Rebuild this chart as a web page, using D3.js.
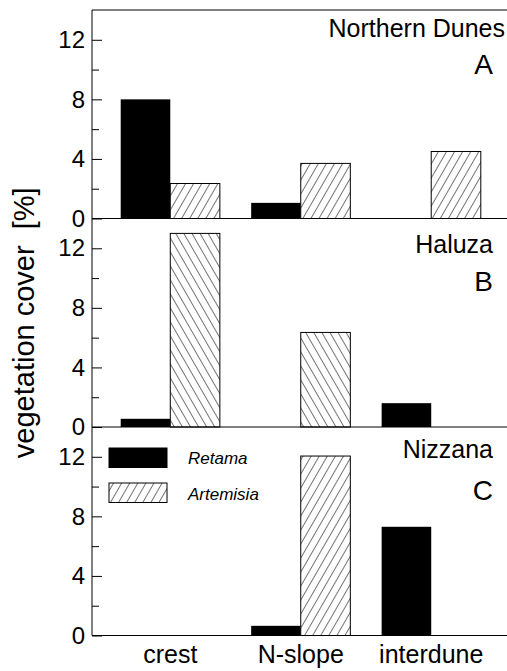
<!DOCTYPE html>
<html>
<head>
<meta charset="utf-8">
<script src="https://cdn.jsdelivr.net/npm/d3@7"></script>
<style>
  body { margin: 0; background: #fff; }
  svg { display: block; }
</style>
</head>
<body>
<div id="chart"></div>
<script>
// data
const sites = ["Northern Dunes", "Haluza", "Nizzana"];
const panelLetters = ["A", "B", "C"];
const positions = ["crest", "N-slope", "interdune"];
const species = ["Retama", "Artemisia"];
// vegetation cover [%] per site, per position
const retama = [
  [8.0, 1.05, 0],
  [0.55, 0, 1.6],
  [0, 0.65, 7.3]
];
const artemisia = [
  [2.35, 3.7, 4.5],
  [13.0, 6.35, 0],
  [0, 12.05, 0]
];
const majorTicks = [0, 4, 8, 12];
const minorTicks = [2, 6, 10];

const width = 507, height = 671;
const plotLeft = 92, plotTop = 10, panelH = 208.5;
const font = "'Liberation Sans', Arial, sans-serif";

const svg = d3.select("#chart").append("svg")
  .attr("width", width)
  .attr("height", height)
  .attr("font-family", font);

// hatch patterns: "///" and "\\\"
const defs = svg.append("defs");
[["fwd", 30], ["back", -30]].forEach(([id, ang]) => {
  defs.append("pattern")
    .attr("id", id)
    .attr("patternUnits", "userSpaceOnUse")
    .attr("width", 7)
    .attr("height", 7)
    .attr("patternTransform", `rotate(${ang})`)
    .append("line")
    .attr("x1", 0).attr("y1", 0)
    .attr("x2", 0).attr("y2", 7)
    .attr("stroke", "#000")
    .attr("stroke-width", 1.1);
});

const x = d3.scaleLinear().domain([0.4, 3.6]).range([plotLeft, 509.5]);
const barW = x(1.38) - x(1);

sites.forEach((site, i) => {
  const y0 = plotTop + i * panelH;
  const y = d3.scaleLinear().domain([0, 14]).range([y0 + panelH, y0]);
  const g = svg.append("g");
  const hatch = i === 1 ? "url(#back)" : "url(#fwd)";

  // bars
  g.append("g").selectAll("rect")
    .data(retama[i])
    .join("rect")
    .attr("x", (d, j) => x(j + 1) - barW)
    .attr("y", d => y(d))
    .attr("width", barW)
    .attr("height", d => y(0) - y(d))
    .attr("fill", "#000")
    .attr("display", d => d > 0 ? null : "none");

  g.append("g").selectAll("rect")
    .data(artemisia[i])
    .join("rect")
    .attr("x", (d, j) => x(j + 1))
    .attr("y", d => y(d))
    .attr("width", barW)
    .attr("height", d => y(0) - y(d))
    .attr("fill", "#fff")
    .attr("display", d => d > 0 ? null : "none");
  g.append("g").selectAll("rect")
    .data(artemisia[i])
    .join("rect")
    .attr("x", (d, j) => x(j + 1))
    .attr("y", d => y(d))
    .attr("width", barW)
    .attr("height", d => y(0) - y(d))
    .attr("fill", hatch)
    .attr("stroke", "#000")
    .attr("stroke-width", 1)
    .attr("display", d => d > 0 ? null : "none");

  // zero line / panel separator
  g.append("line")
    .attr("x1", plotLeft).attr("x2", width)
    .attr("y1", y(0)).attr("y2", y(0))
    .attr("stroke", "#000");

  // y axis, ticks pointing inward
  const ax = g.append("g")
    .attr("transform", `translate(${plotLeft},0)`)
    .call(d3.axisLeft(y).tickValues(majorTicks).tickSize(-10).tickPadding(7));
  ax.selectAll("text").attr("font-size", 24).attr("font-family", font).attr("fill", "#000");
  ax.select(".domain").remove();
  const mx = g.append("g")
    .attr("transform", `translate(${plotLeft},0)`)
    .call(d3.axisLeft(y).tickValues(minorTicks).tickSize(-7).tickFormat(""));
  mx.select(".domain").remove();

  // panel titles
  g.append("text")
    .attr("x", i === 0 ? 505 : 493)
    .attr("y", y0 + [27, 34, 31][i])
    .attr("text-anchor", "end")
    .attr("font-size", 25)
    .text(site);
  g.append("text")
    .attr("x", 493)
    .attr("y", y0 + [64, 72, 73][i])
    .attr("text-anchor", "end")
    .attr("font-size", 28)
    .text(panelLetters[i]);
});

// frame: top and left lines
svg.append("line")
  .attr("x1", plotLeft).attr("x2", width)
  .attr("y1", plotTop).attr("y2", plotTop)
  .attr("stroke", "#000");
svg.append("line")
  .attr("x1", plotLeft).attr("x2", plotLeft)
  .attr("y1", plotTop).attr("y2", plotTop + 3 * panelH)
  .attr("stroke", "#000");

// category labels
svg.append("g")
  .selectAll("text")
  .data(positions)
  .join("text")
  .attr("x", (d, j) => x(j + 1))
  .attr("y", 663)
  .attr("text-anchor", "middle")
  .attr("font-size", 25)
  .text(d => d);

// y axis title
svg.append("text")
  .attr("transform", `translate(34, ${plotTop + 1.5 * panelH}) rotate(-90)`)
  .attr("text-anchor", "middle")
  .attr("font-size", 29)
  .style("white-space", "pre")
  .text("vegetation cover  [%]");

// legend in panel C
const leg = svg.append("g").attr("transform", "translate(109,448)");
leg.selectAll("rect")
  .data(species)
  .join("rect")
  .attr("x", 0)
  .attr("y", (d, k) => k * 35)
  .attr("width", 58)
  .attr("height", 19.5)
  .attr("fill", (d, k) => k === 0 ? "#000" : "url(#fwd)")
  .attr("stroke", "#000");
leg.selectAll("text")
  .data(species)
  .join("text")
  .attr("x", 79)
  .attr("y", (d, k) => 16 + k * 36)
  .attr("font-size", 17)
  .attr("font-style", "italic")
  .text(d => d);
</script>
</body>
</html>
